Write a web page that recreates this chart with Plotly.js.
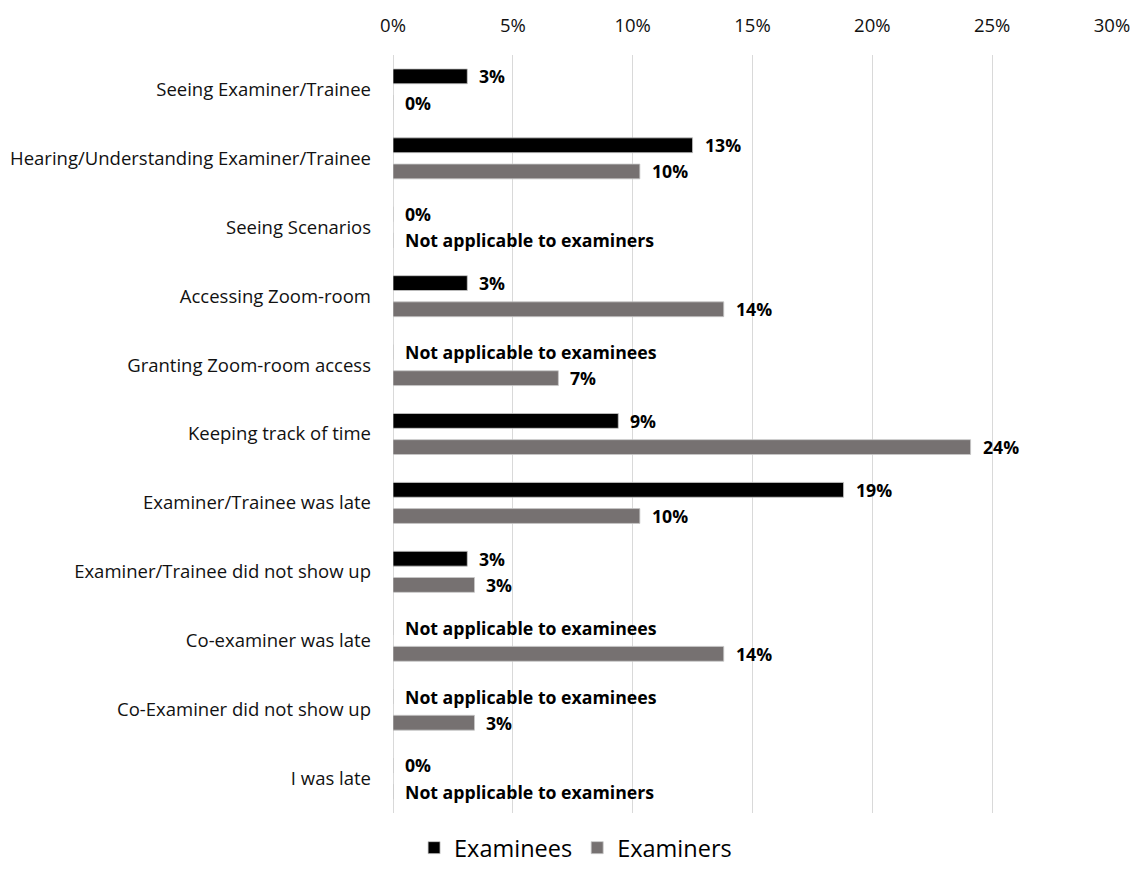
<!DOCTYPE html>
<html>
<head>
<meta charset="utf-8">
<script src="https://cdn.plot.ly/plotly-3.0.1.min.js"></script>
<style>html,body{margin:0;padding:0;background:#fff;}#chart{width:1133px;height:869px;}</style>
</head>
<body>
<div id="chart"></div>
<script>
var categories = [
  "Seeing Examiner/Trainee",
  "Hearing/Understanding Examiner/Trainee",
  "Seeing Scenarios",
  "Accessing Zoom-room",
  "Granting Zoom-room access",
  "Keeping track of time",
  "Examiner/Trainee was late",
  "Examiner/Trainee did not show up",
  "Co-examiner was late",
  "Co-Examiner did not show up",
  "I was late"
];
// share of respondents (null = not applicable)
var examinees = [0.031, 0.125, 0, 0.031, null, 0.094, 0.188, 0.031, null, null, 0];
var examiners = [0, 0.103, null, 0.138, 0.069, 0.241, 0.103, 0.034, 0.138, 0.034, null];
var naExaminees = "Not applicable to examinees";
var naExaminers = "Not applicable to examiners";
var xTicks = [0, 0.05, 0.10, 0.15, 0.20, 0.25, 0.30];

var FONT = "'Open Sans', sans-serif";
var BAR_W = 0.215, OFF = 0.19;

function label(v, na) { return v === null ? na : Math.round(v * 100) + "%"; }

var traces = [
  {
    type: "bar", orientation: "h", name: "Examinees",
    y: categories, x: examinees.map(function(v){ return v === null ? 0 : v; }),
    width: BAR_W, offset: -OFF - BAR_W / 2,
    marker: {color: "#000000", line: {color: "#c8c8c8", width: 0.8}},
    hoverinfo: "none"
  },
  {
    type: "bar", orientation: "h", name: "Examiners",
    y: categories, x: examiners.map(function(v){ return v === null ? 0 : v; }),
    width: BAR_W, offset: OFF - BAR_W / 2,
    marker: {color: "#767171", line: {color: "#c8c8c8", width: 0.8}},
    hoverinfo: "none"
  }
];

var annotations = [];
categories.forEach(function(c, i) {
  annotations.push({
    x: examinees[i] === null ? 0 : examinees[i], y: i - OFF, xref: "x", yref: "y",
    text: "<b>" + label(examinees[i], naExaminees) + "</b>",
    showarrow: false, xanchor: "left", yanchor: "middle", xshift: 10,
    font: {family: FONT, size: 17.7, color: "#000"}
  });
  annotations.push({
    x: examiners[i] === null ? 0 : examiners[i], y: i + OFF, xref: "x", yref: "y",
    text: "<b>" + label(examiners[i], naExaminers) + "</b>",
    showarrow: false, xanchor: "left", yanchor: "middle", xshift: 10,
    font: {family: FONT, size: 17.7, color: "#000"}
  });
});

var layout = {
  width: 1133, height: 869,
  margin: {l: 393, r: 21, t: 55, b: 56, autoexpand: false},
  paper_bgcolor: "#fff", plot_bgcolor: "#fff",
  font: {family: FONT, size: 18, color: "#000"},
  barmode: "group",
  showlegend: true,
  legend: {
    orientation: "h", xref: "container", yref: "paper",
    x: 0.508, xanchor: "center", y: -0.046, yanchor: "middle",
    font: {family: FONT, size: 23.5, color: "#000"},
    traceorder: "normal", itemwidth: 30
  },
  xaxis: {
    side: "top", range: [0, 0.30], tickvals: xTicks, tickformat: ".0%",
    showgrid: true, gridcolor: "#d9d9d9", gridwidth: 1,
    zeroline: true, zerolinecolor: "#d9d9d9", zerolinewidth: 1,
    showline: false, ticks: "", ticklabelstandoff: 18,
    tickfont: {family: FONT, size: 18.5, color: "#111"}, fixedrange: true
  },
  yaxis: {
    type: "category", autorange: "reversed",
    showgrid: false, zeroline: false, showline: false, ticks: "",
    ticklabelstandoff: 21,
    tickfont: {family: FONT, size: 18.5, color: "#111"}, fixedrange: true
  },
  annotations: annotations
};

Plotly.newPlot("chart", traces, layout, {displayModeBar: false, staticPlot: true});
</script>
</body>
</html>
